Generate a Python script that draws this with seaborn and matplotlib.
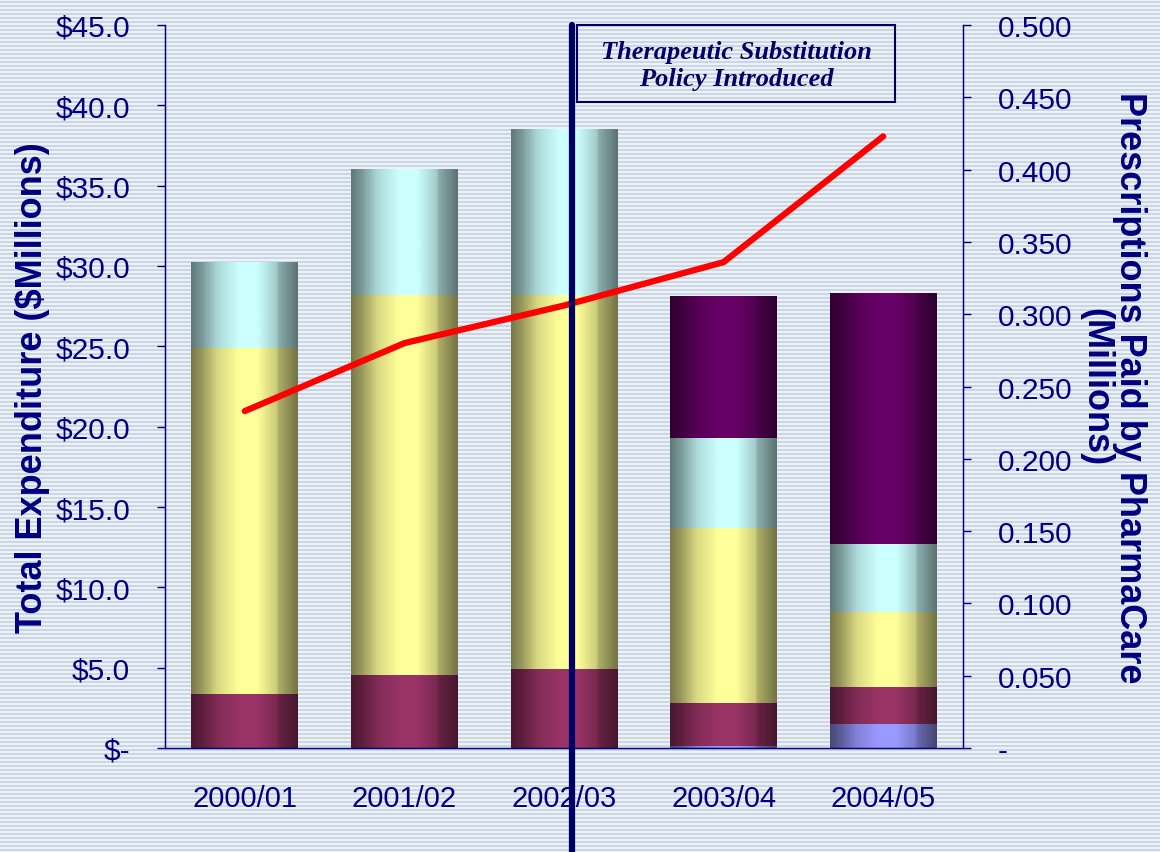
import numpy as np
import pandas as pd
import matplotlib
matplotlib.use("Agg")
import matplotlib.pyplot as plt
import matplotlib.colors as mcolors
from matplotlib.patches import Rectangle
import seaborn as sns

# Data
years = ["2000/01", "2001/02", "2002/03", "2003/04", "2004/05"]
# expenditure by segment, $ millions, bottom to top
seg_blue = [0.0, 0.0, 0.0, 0.1, 1.5]
seg_maroon = [3.35, 4.55, 4.9, 2.7, 2.3]
seg_yellow = [21.55, 23.65, 23.3, 10.9, 4.65]
seg_cyan = [5.3, 7.8, 10.3, 5.6, 4.25]
seg_purple = [0.0, 0.0, 0.0, 8.8, 15.6]
# prescriptions paid, millions
prescriptions = [0.233, 0.280, 0.306, 0.336, 0.423]

segments = [seg_blue, seg_maroon, seg_yellow, seg_cyan, seg_purple]
seg_colors = ["#9999FF", "#993366", "#FFFF99", "#CCFFFF", "#660066"]

navy = "#000080"
W, H = 1160, 853

sns.set_style("white")
plt.rcParams["font.family"] = ["Liberation Sans", "DejaVu Sans"]

fig = plt.figure(figsize=(W / 100, H / 100), dpi=100)

# striped background
bg = np.zeros((H, W, 3))
light = np.array(mcolors.to_rgb("#EEF2F7"))
dark = np.array(mcolors.to_rgb("#C9D6E6"))
rows = np.arange(H) % 4
bg[rows < 2] = light
bg[rows >= 2] = dark
fig.figimage(bg, 0, 0, zorder=-10)

ax = fig.add_axes([165 / W, 1 - 749 / H, (963 - 165) / W, (749 - 26) / H])
ax.set_facecolor("none")
fig.patch.set_alpha(0)

# stacked bars: draw cumulative layers with seaborn, then shade each segment
cum = np.cumsum(np.array(segments), axis=0)
profile_t = [0, 0.1, 0.25, 0.45, 0.62, 0.8, 0.82, 1]
profile_f = [0.47, 0.6, 0.85, 1.0, 1.0, 0.8, 0.68, 0.45]
tt = np.linspace(0, 1, 200)
shade = np.interp(tt, profile_t, profile_f)

for k in range(len(segments)):
    df = pd.DataFrame({"year": years, "value": cum[k]})
    n_before = len(ax.patches)
    sns.barplot(data=df, x="year", y="value", color=seg_colors[k],
                width=0.67, ax=ax, zorder=2)
    new = ax.patches[n_before:]
    base = np.array(mcolors.to_rgb(seg_colors[k]))
    img = (shade[:, None] * base[None, :])[None, :, :]
    for i, p in enumerate(new):
        p.set_facecolor("none")
        p.set_edgecolor("none")
        lo = cum[k - 1][i] if k > 0 else 0.0
        hi = cum[k][i]
        if hi - lo <= 0:
            continue
        x0 = p.get_x()
        x1 = x0 + p.get_width()
        ax.imshow(img, extent=(x0, x1, lo, hi), aspect="auto",
                  interpolation="bilinear", zorder=2)

ax.set_xlim(-0.5, 4.5)
ax.set_ylim(0, 45)
ax.set_yticks(np.arange(0, 46, 5))
ax.set_yticklabels(["$-"] + [f"${v:.1f}" for v in np.arange(5, 46, 5)])
ax.set_xticks(range(len(years)))
ax.set_xticklabels(years)
ax.set_xticks(np.arange(-0.5, 4.6, 1), minor=True)
ax.tick_params(axis="x", which="major", length=0, pad=26, labelsize=21,
               labelcolor=navy)
ax.tick_params(axis="x", which="minor", length=7, width=1, color=navy,
               direction="out")
ax.tick_params(axis="y", length=6, width=1, color=navy, pad=19,
               labelsize=21.5, labelcolor=navy, direction="out")
ax.set_xlabel("")
ax.set_ylabel("Total Expenditure ($Millions)", fontsize=26,
              fontweight="bold", color=navy, labelpad=4)
for s in ["left", "bottom", "right"]:
    ax.spines[s].set_color(navy)
    ax.spines[s].set_linewidth(1)
ax.spines["top"].set_visible(False)

# secondary axis: prescriptions
ax2 = ax.twinx()
ax2.set_facecolor("none")
sns.lineplot(x=np.arange(len(years)), y=prescriptions, ax=ax2,
             color="#FF0000", linewidth=4.5, zorder=3)
for ln in ax2.lines:
    ln.set_solid_capstyle("round")
ax2.set_xlim(-0.5, 4.5)
ax2.set_ylim(0, 0.5)
ax2.set_yticks(np.arange(0, 0.51, 0.05))
ax2.set_yticklabels(["-"] + [f"{v:.3f}" for v in np.arange(0.05, 0.51, 0.05)])
ax2.tick_params(axis="y", length=6, width=1, color=navy, pad=19,
                labelsize=21.5, labelcolor=navy, direction="out")
ax2.set_ylabel("Prescriptions Paid by PharmaCare\n(Millions)", fontsize=26,
               fontweight="bold", color=navy, rotation=270, labelpad=54,
               linespacing=0.95)
for s in ["left", "bottom", "right"]:
    ax2.spines[s].set_color(navy)
ax2.spines["top"].set_visible(False)

# policy marker
policy_x = 2.05
ax2.axvline(policy_x, ymin=-0.144, ymax=1.0, color="#000066", linewidth=4.5,
            clip_on=False, zorder=5)
ax2.add_patch(Rectangle((0.516, 0.894), 0.399, 0.106, transform=ax2.transAxes,
                        facecolor="none", edgecolor="#000066", linewidth=1.5,
                        clip_on=False, zorder=4))
ax2.text(0.7155, 0.945, "Therapeutic Substitution\nPolicy Introduced",
         transform=ax2.transAxes, ha="center", va="center",
         fontsize=19, fontweight="bold", fontstyle="italic",
         family=["Liberation Serif", "DejaVu Serif"], color="#000066",
         linespacing=1.25, zorder=4)

fig.savefig("out.png", dpi=100)
